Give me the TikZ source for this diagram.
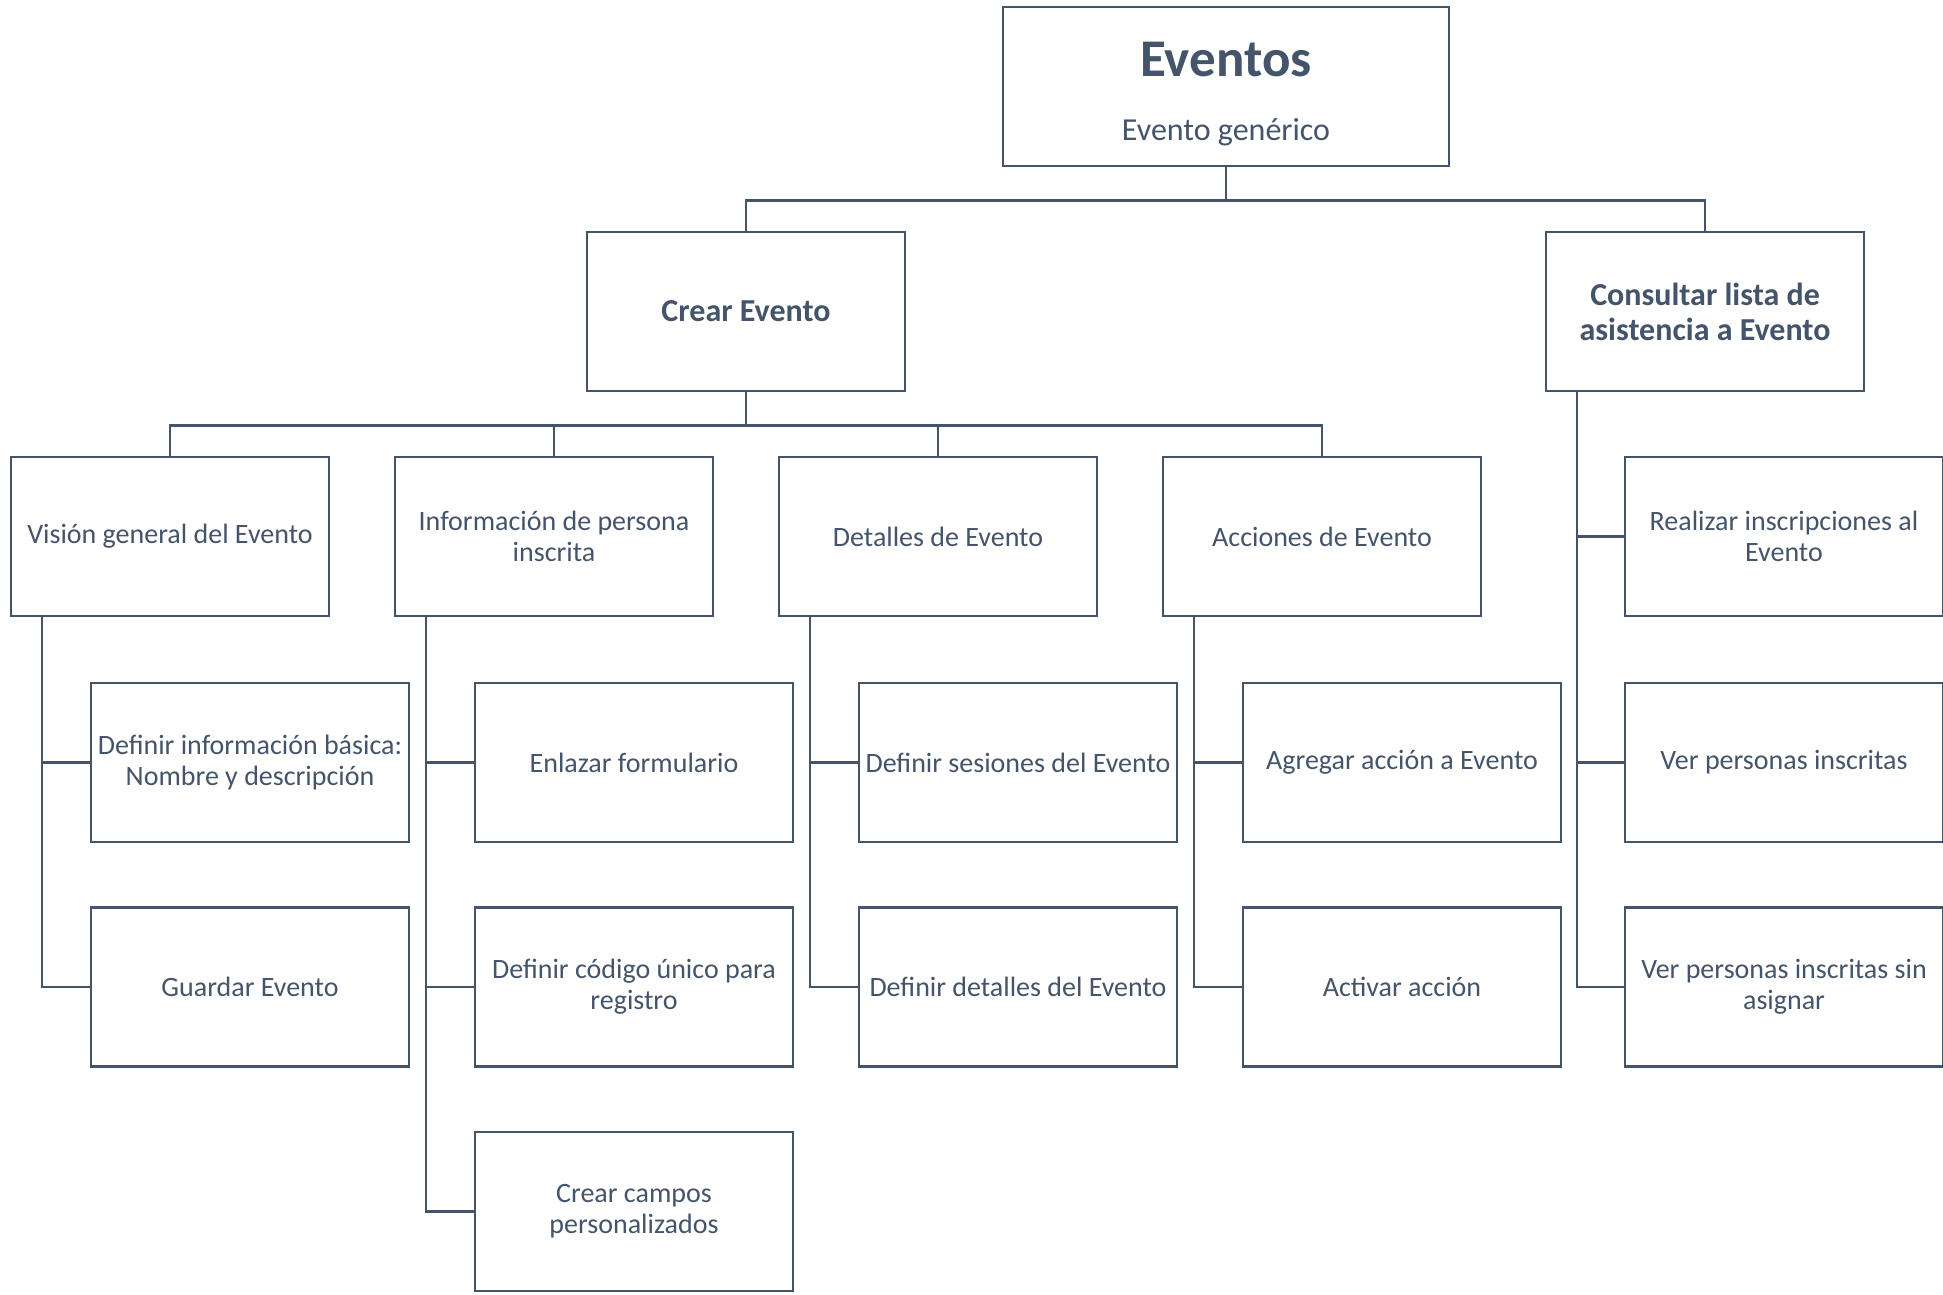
\documentclass[tikz,border=0pt]{standalone}
\usepackage{fontspec}
\setmainfont{Carlito}
\definecolor{pizarra}{HTML}{44546A}

\begin{document}
\begin{tikzpicture}[x=1pt,y=-1pt,
    caja/.style={draw=pizarra,line width=2.5pt,text=pizarra,fill=white,
      minimum width=318pt,minimum height=159pt,inner sep=0pt,align=center,
      font=\fontsize{28}{31}\selectfont},
    negrita/.style={caja,font=\fontsize{32}{35}\selectfont\bfseries},
    rama/.style={draw=pizarra,line width=2.5pt}]
  \useasboundingbox (0,0) rectangle (1943,1295);
  \node[caja,minimum width=446pt,font=\fontsize{32}{40}\selectfont] (eventos) at (1226,86.5)
    {{\fontsize{53}{64}\selectfont\bfseries\rule{0pt}{50pt}Eventos}\\[24pt]Evento genérico};
  \node[negrita] (crear) at (746,311.5) {Crear Evento};
  \node[negrita] (consultar) at (1705,311.5) {Consultar lista de\\asistencia a Evento};
  \draw[rama] (eventos.south) -- ++(0,33) -| (crear.north);
  \draw[rama] (eventos.south) -- ++(0,33) -| (consultar.north);
  \foreach \nombre/\x/\texto in {vision/170/Visión general del Evento,
      info/554/Información de persona\\inscrita,
      detalles/938/Detalles de Evento,
      acciones/1322/Acciones de Evento} {
    \node[caja] (\nombre) at (\x,536.5) {\texto};
    \draw[rama] (crear.south) -- ++(0,33) -| (\nombre.north);
  }
  \foreach \padre/\hijo/\x/\y/\texto in {
      vision/basica/250/762.5/Definir información básica:\\Nombre y descripción,
      vision/guardar/250/987/Guardar Evento,
      info/enlazar/634/762.5/Enlazar formulario,
      info/codigo/634/987/Definir código único para\\registro,
      info/campos/634/1211.5/Crear campos\\personalizados,
      detalles/sesiones/1018/762.5/Definir sesiones del Evento,
      detalles/definir/1018/987/Definir detalles del Evento,
      acciones/agregar/1402/762.5/Agregar acción a Evento,
      acciones/activar/1402/987/Activar acción,
      consultar/inscribir/1784/536.5/Realizar inscripciones al\\Evento,
      consultar/ver/1784/762.5/Ver personas inscritas,
      consultar/sinasignar/1784/987/Ver personas inscritas sin\\asignar} {
    \node[caja] (\hijo) at (\x,\y) {\texto};
    \draw[rama] ([xshift=32pt]\padre.south west) |- (\hijo.west);
  }
\end{tikzpicture}
\end{document}
